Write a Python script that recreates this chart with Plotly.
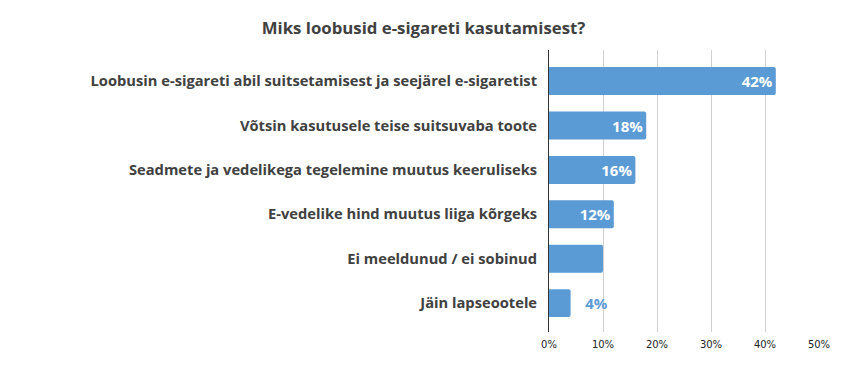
import plotly.graph_objects as go

categories = [
    "Loobusin e-sigareti abil suitsetamisest ja seejärel e-sigaretist",
    "Võtsin kasutusele teise suitsuvaba toote",
    "Seadmete ja vedelikega tegelemine muutus keeruliseks",
    "E-vedelike hind muutus liiga kõrgeks",
    "Ei meeldunud / ei sobinud",
    "Jäin lapseootele",
]
values = [42, 18, 16, 12, 10, 4]
value_labels = ["42%", "18%", "16%", "12%", "", "4%"]
tick_vals = [0, 10, 20, 30, 40, 50]
tick_text = ["0%", "10%", "20%", "30%", "40%", "50%"]

BLUE = "#5B9BD5"
positions = ["inside" if v >= 10 else "outside" for v in values]
text_colors = ["white" if v >= 10 else BLUE for v in values]
# outside labels sit a bit further from the bar end
shown_text = [t if v >= 10 else "\u00a0\u00a0\u00a0" + t for t, v in zip(value_labels, values)]

fig = go.Figure(go.Bar(
    x=values,
    y=categories,
    orientation="h",
    marker=dict(color=BLUE, line=dict(width=0)),
    width=0.63,
    text=shown_text,
    textposition=positions,
    insidetextanchor="end",
    textfont=dict(family="Open Sans, sans-serif", size=15, color=text_colors, weight="bold"),
    cliponaxis=False,
    hoverinfo="skip",
))

fig.update_layout(
    width=847,
    height=369,
    paper_bgcolor="white",
    plot_bgcolor="white",
    margin=dict(l=549, r=28, t=50, b=37),
    barcornerradius=2,
    showlegend=False,
    title=dict(
        text="<b>Miks loobusid e-sigareti kasutamisest?</b>",
        x=0.5, xanchor="center", y=0.925, yanchor="middle",
        font=dict(family="Open Sans, sans-serif", size=16.8, color="#404040"),
    ),
    xaxis=dict(
        range=[0, 50],
        tickvals=tick_vals,
        ticktext=tick_text,
        showgrid=True,
        gridcolor="#D0D0D0",
        gridwidth=1,
        zeroline=False,
        showline=False,
        ticks="",
        automargin=False,
        ticklabelstandoff=5,
        tickfont=dict(family="DejaVu Sans, sans-serif", size=10, color="#222222"),
        fixedrange=True,
    ),
    yaxis=dict(
        range=[5.65, -0.70],
        showline=True,
        linecolor="#333333",
        linewidth=1,
        ticks="",
        automargin=False,
        ticklabelstandoff=8,
        tickfont=dict(family="Open Sans, sans-serif", size=14.7, color="#404040", weight="bold"),
        fixedrange=True,
    ),
)

fig.write_html(
    "out.html",
    config={"displayModeBar": False},
    post_script="document.body.style.margin='0';",
)
